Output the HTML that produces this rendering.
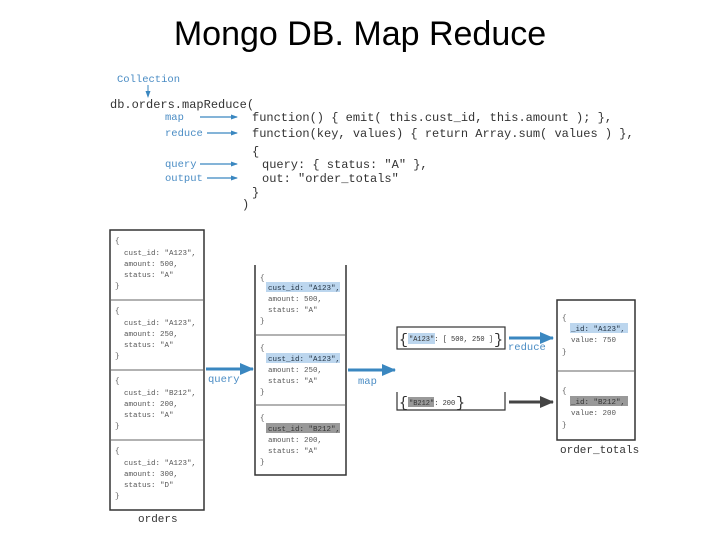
<!DOCTYPE html>
<html><head><meta charset="utf-8"><style>
body{margin:0;width:720px;height:540px;background:#fff;overflow:hidden}
</style></head><body>
<svg width="720" height="540" xmlns="http://www.w3.org/2000/svg" font-family="Liberation Mono, monospace">
<defs>
<marker id="a" markerUnits="userSpaceOnUse" markerWidth="14" markerHeight="14" refX="13" refY="7" orient="auto"><path d="M0,1 L14,7 L0,13z" fill="#3a87c0"/></marker>
<marker id="s" markerUnits="userSpaceOnUse" markerWidth="7" markerHeight="7" refX="6" refY="3.5" orient="auto"><path d="M0,1 L7,3.5 L0,6z" fill="#3a87c0"/></marker>
<marker id="d" markerUnits="userSpaceOnUse" markerWidth="14" markerHeight="14" refX="13" refY="7" orient="auto"><path d="M0,1 L14,7 L0,13z" fill="#444"/></marker>
</defs>
<text x="360" y="45" text-anchor="middle" font-family="Liberation Sans, sans-serif" font-size="34" fill="#000">Mongo DB. Map Reduce</text>
<g font-size="10.5" fill="#4a8cc4">
<text x="117" y="82">Collection</text>
<text x="165" y="120">map</text><text x="165" y="136">reduce</text>
<text x="165" y="167">query</text><text x="165" y="181">output</text>
</g>
<line x1="148" y1="85" x2="148" y2="97" stroke="#3a87c0" marker-end="url(#s)"/>
<g stroke="#3a87c0" stroke-width="1.2" marker-end="url(#s)">
<line x1="200" y1="117" x2="237" y2="117"/><line x1="207" y1="133" x2="237" y2="133"/>
<line x1="200" y1="164" x2="237" y2="164"/><line x1="207" y1="178" x2="237" y2="178"/>
</g>
<g font-size="12" fill="#333">
<text x="110" y="108">db.orders.mapReduce(</text>
<text x="252" y="121">function() { emit( this.cust_id, this.amount ); },</text>
<text x="252" y="137">function(key, values) { return Array.sum( values ) },</text>
<text x="252" y="155">{</text>
<text x="262" y="168">query: { status: "A" },</text>
<text x="262" y="182">out: "order_totals"</text>
<text x="252" y="196">}</text>
<text x="242" y="208">)</text>
</g>
<!-- orders -->
<rect x="110" y="230" width="94" height="280" fill="none" stroke="#333" stroke-width="1.5"/>
<g stroke="#666"><line x1="110" y1="300" x2="204" y2="300"/><line x1="110" y1="370" x2="204" y2="370"/><line x1="110" y1="440" x2="204" y2="440"/></g>
<g font-size="7.5" fill="#555">
<text x="115" y="243">{</text><text x="124" y="255">cust_id: "A123",</text><text x="124" y="266">amount: 500,</text><text x="124" y="277">status: "A"</text><text x="115" y="288">}</text>
<text x="115" y="313">{</text><text x="124" y="325">cust_id: "A123",</text><text x="124" y="336">amount: 250,</text><text x="124" y="347">status: "A"</text><text x="115" y="358">}</text>
<text x="115" y="383">{</text><text x="124" y="395">cust_id: "B212",</text><text x="124" y="406">amount: 200,</text><text x="124" y="417">status: "A"</text><text x="115" y="428">}</text>
<text x="115" y="453">{</text><text x="124" y="465">cust_id: "A123",</text><text x="124" y="476">amount: 300,</text><text x="124" y="487">status: "D"</text><text x="115" y="498">}</text>
</g>
<text x="138" y="522" font-size="11" fill="#333">orders</text>
<!-- query arrow -->
<line x1="206" y1="369" x2="253" y2="369" stroke="#3a87c0" stroke-width="3" marker-end="url(#a)"/>
<text x="208" y="382" font-size="10.5" fill="#4a8cc4">query</text>
<!-- middle -->
<path d="M255,265 V475 H346 V265" fill="none" stroke="#333" stroke-width="1.5"/>
<g stroke="#666"><line x1="255" y1="335" x2="346" y2="335"/><line x1="255" y1="405" x2="346" y2="405"/></g>
<rect x="266" y="282" width="74" height="10" fill="#bcd6ee"/>
<rect x="266" y="353" width="74" height="10" fill="#bcd6ee"/>
<rect x="266" y="423" width="74" height="10" fill="#999"/>
<g font-size="7.5" fill="#555">
<text x="260" y="280">{</text><text x="268" y="290" fill="#234">cust_id: "A123",</text><text x="268" y="301">amount: 500,</text><text x="268" y="312">status: "A"</text><text x="260" y="323">}</text>
<text x="260" y="350">{</text><text x="268" y="361" fill="#234">cust_id: "A123",</text><text x="268" y="372">amount: 250,</text><text x="268" y="383">status: "A"</text><text x="260" y="394">}</text>
<text x="260" y="420">{</text><text x="268" y="431" fill="#333">cust_id: "B212",</text><text x="268" y="442">amount: 200,</text><text x="268" y="453">status: "A"</text><text x="260" y="464">}</text>
</g>
<line x1="348" y1="370" x2="395" y2="370" stroke="#3a87c0" stroke-width="3" marker-end="url(#a)"/>
<text x="358" y="384" font-size="10.5" fill="#4a8cc4">map</text>
<!-- key boxes -->
<rect x="397" y="327" width="108" height="22" fill="none" stroke="#333" stroke-width="1.2"/>
<rect x="408" y="333" width="27" height="11" fill="#bcd6ee"/>
<text x="399" y="344" font-size="15" fill="#333">{</text><text x="494" y="344" font-size="15" fill="#333">}</text>
<text x="409" y="341" font-size="7" fill="#333">"A123": [ 500, 250 ]</text>
<path d="M397,392 V410 H505 V392" fill="none" stroke="#333" stroke-width="1.2"/>
<rect x="408" y="397" width="26" height="10" fill="#999"/>
<text x="399" y="407" font-size="15" fill="#333">{</text><text x="456" y="407" font-size="15" fill="#333">}</text>
<text x="409" y="405" font-size="7" fill="#333">"B212": 200</text>
<line x1="509" y1="338" x2="553" y2="338" stroke="#3a87c0" stroke-width="3" marker-end="url(#a)"/>
<text x="508" y="350" font-size="10.5" fill="#4a8cc4">reduce</text>
<line x1="509" y1="402" x2="553" y2="402" stroke="#444" stroke-width="3" marker-end="url(#d)"/>
<!-- totals -->
<rect x="557" y="300" width="78" height="140" fill="none" stroke="#333" stroke-width="1.5"/>
<line x1="557" y1="371" x2="635" y2="371" stroke="#666"/>
<rect x="570" y="323" width="58" height="10" fill="#bcd6ee"/>
<rect x="570" y="396" width="58" height="10" fill="#999"/>
<g font-size="7.5" fill="#555">
<text x="562" y="320">{</text><text x="571" y="331" fill="#234">_id: "A123",</text><text x="571" y="342">value: 750</text><text x="562" y="354">}</text>
<text x="562" y="393">{</text><text x="571" y="404" fill="#333">_id: "B212",</text><text x="571" y="415">value: 200</text><text x="562" y="427">}</text>
</g>
<text x="560" y="453" font-size="11" fill="#333">order_totals</text>
</svg>
</body></html>
